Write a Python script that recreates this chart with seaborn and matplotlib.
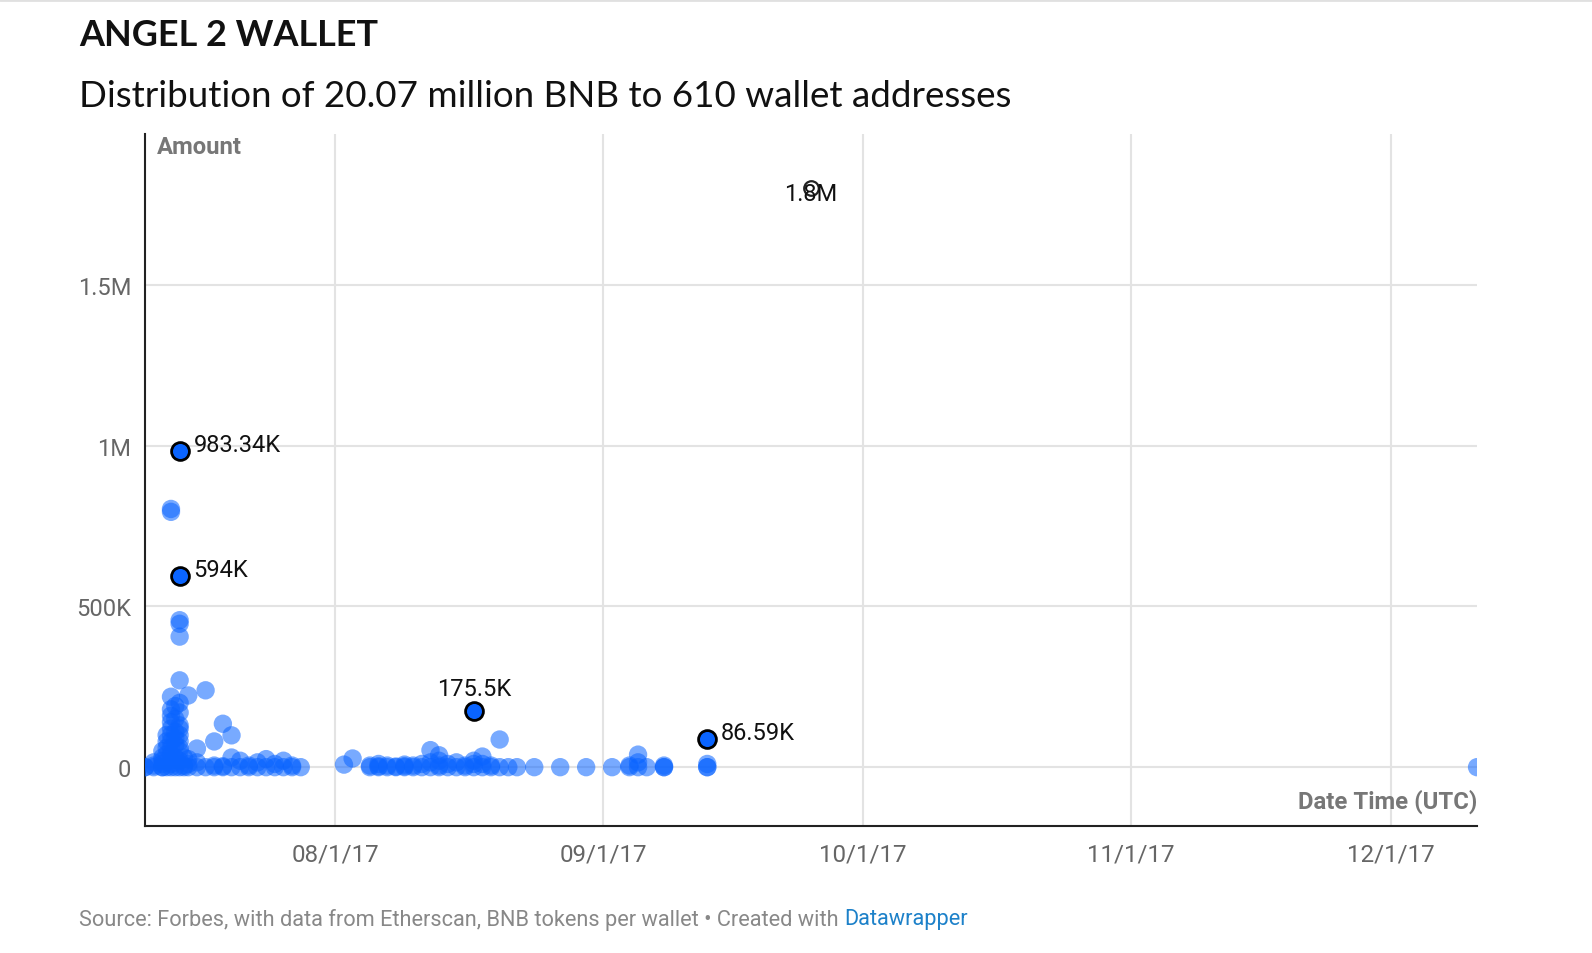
import pandas as pd
import numpy as np
import seaborn as sns
import matplotlib.pyplot as plt
import matplotlib.dates as mdates
from matplotlib.lines import Line2D

# Data: wallet transfers (date, amount in BNB)
dates = (
    ["2017-07-10 00:00"] * 2
    + ["2017-07-11 00:00"] * 3
    + ["2017-07-12 00:00"] * 6
    + ["2017-07-12 12:00"] * 5
    + ["2017-07-13 00:00"] * 14
    + ["2017-07-13 12:00"] * 7
    + ["2017-07-14 00:00"] * 14
    + ["2017-07-14 12:00"] * 3
    + ["2017-07-15 00:00"] * 4
    + ["2017-07-16 00:00"] * 3
    + ["2017-07-17 00:00"] * 2
    + ["2017-07-18 00:00"] * 3
    + ["2017-07-19 00:00"] * 3
    + ["2017-07-20 00:00"] * 3
    + ["2017-07-21 00:00"] * 2
    + ["2017-07-22 00:00"] * 2
    + ["2017-07-23 00:00"] * 2
    + ["2017-07-24 00:00"] * 2
    + ["2017-07-25 00:00"] * 2
    + ["2017-07-26 00:00"] * 2
    + ["2017-07-27 00:00"] * 2
    + ["2017-07-28 00:00"]
    + ["2017-08-02 00:00", "2017-08-03 00:00"]
    + ["2017-08-05 00:00"] * 2
    + ["2017-08-06 00:00"] * 3
    + ["2017-08-07 00:00"] * 2
    + ["2017-08-08 00:00"] * 2
    + ["2017-08-09 00:00"] * 3
    + ["2017-08-10 00:00"] * 2
    + ["2017-08-11 00:00"] * 2
    + ["2017-08-12 00:00"] * 3
    + ["2017-08-13 00:00"] * 4
    + ["2017-08-14 00:00"] * 2
    + ["2017-08-15 00:00"] * 2
    + ["2017-08-16 00:00"] * 2
    + ["2017-08-17 00:00"] * 3
    + ["2017-08-18 00:00"] * 3
    + ["2017-08-19 00:00"] * 2
    + ["2017-08-20 00:00"] * 2
    + ["2017-08-21 00:00", "2017-08-22 00:00", "2017-08-24 00:00",
       "2017-08-27 00:00", "2017-08-30 00:00", "2017-09-02 00:00"]
    + ["2017-09-04 00:00"] * 2
    + ["2017-09-05 00:00"] * 3
    + ["2017-09-06 00:00"]
    + ["2017-09-08 00:00"] * 3
    + ["2017-09-13 00:00"] * 3
    + ["2017-12-11 00:00"]
)
amounts_k = (
    [0, 0]
    + [0, 15, 5]
    + [0, 10, 30, 50, 20, 0]
    + [60, 80, 100, 40, 0]
    + [0, 20, 40, 60, 80, 100, 120, 140, 160, 180, 219, 794, 803, 10]
    + [0, 30, 70, 110, 150, 190, 90]
    + [0, 20, 50, 80, 100, 130, 170, 200, 270, 406, 446, 457, 120, 60]
    + [0, 30, 5]
    + [223, 0, 10, 25]
    + [58, 0, 15]
    + [239, 0]
    + [80, 0, 5]
    + [135, 0, 3]
    + [99, 0, 30]
    + [0, 20]
    + [0, 5]
    + [0, 15]
    + [25, 0]
    + [10, 0]
    + [20, 0]
    + [5, 0]
    + [0]
    + [8, 27]
    + [0, 5]
    + [0, 10, 3]
    + [0, 5]
    + [0, 2]
    + [0, 8, 3]
    + [0, 5]
    + [0, 10]
    + [53, 0, 15]
    + [37, 0, 5, 20]
    + [0, 10]
    + [0, 15]
    + [0, 5]
    + [0, 20, 10]
    + [33, 0, 10]
    + [0, 5]
    + [86, 0]
    + [0, 0, 0, 0, 0, 0]
    + [0, 5]
    + [39, 15, 0]
    + [0]
    + [0, 0, 5]
    + [0, 0, 10]
    + [0]
)

# Highlighted transfers
hl_dates = ["2017-07-14", "2017-07-14", "2017-08-17", "2017-09-13"]
hl_amounts_k = [983.34, 594, 175.5, 86.59]
hl_labels = ["983.34K", "594K", "175.5K", "86.59K"]
big_date = "2017-09-25"
big_amount_k = 1800
big_label = "1.8M"

df = pd.DataFrame({"date": pd.to_datetime(dates, format="%Y-%m-%d %H:%M"),
                   "amount": np.array(amounts_k) * 1000})
hl = pd.DataFrame({"date": pd.to_datetime(hl_dates), "amount": np.array(hl_amounts_k) * 1000})

sns.set_style("white")
plt.rcParams["font.family"] = ["Roboto", "DejaVu Sans"]

fig = plt.figure(figsize=(15.92, 9.54), dpi=100)
ax = fig.add_axes([0.0911, 0.1331, 0.8367, 0.7254])

blue = "#0a64ff"
sns.scatterplot(data=df, x="date", y="amount", ax=ax, color=blue, alpha=0.55,
                s=175, edgecolor="none", zorder=3)
sns.scatterplot(data=hl, x="date", y="amount", ax=ax, color=blue, s=165,
                edgecolor="black", linewidth=2, zorder=4)
ax.scatter(pd.to_datetime([big_date]), [big_amount_k * 1000], s=110,
           facecolor="white", edgecolor="#222222", linewidth=1.6, zorder=4)

# Labels on highlighted points
for d, a, lab in zip(hl["date"], hl["amount"], hl_labels):
    if lab == "175.5K":
        ax.annotate(lab, (d, a), xytext=(0, 8), textcoords="offset points",
                    ha="center", va="bottom", fontsize=17, color="#111111", zorder=5)
    else:
        ax.annotate(lab, (d, a), xytext=(10, 5), textcoords="offset points",
                    ha="left", va="center", fontsize=17, color="#111111", zorder=5)
ax.annotate(big_label, (pd.Timestamp(big_date), big_amount_k * 1000), xytext=(0, -4),
            textcoords="offset points", ha="center", va="center", fontsize=17,
            color="#111111", zorder=5)

# Axes
ax.set_xlim(pd.Timestamp("2017-07-10"), pd.Timestamp("2017-12-11"))
ax.set_ylim(-183000, 1969000)
month_ticks = pd.to_datetime(["2017-08-01", "2017-09-01", "2017-10-01", "2017-11-01", "2017-12-01"])
ax.set_xticks(mdates.date2num(month_ticks))
ax.set_xticklabels(["08/1/17", "09/1/17", "10/1/17", "11/1/17", "12/1/17"])
ax.set_yticks([0, 500000, 1000000, 1500000])
ax.set_yticklabels(["0", "500K", "1M", "1.5M"])
ax.tick_params(axis="both", length=0, labelsize=17.4, labelcolor="#666666")
ax.tick_params(axis="x", pad=12)
ax.tick_params(axis="y", pad=10, labelsize=17)
ax.grid(True, color="#e3e3e3", linewidth=1.5, zorder=0)
ax.set_axisbelow(True)
for side in ["top", "right"]:
    ax.spines[side].set_visible(False)
for side in ["left", "bottom"]:
    ax.spines[side].set_color("#222222")
    ax.spines[side].set_linewidth(1.5)
ax.set_xlabel("")
ax.set_ylabel("")

ax.text(0.009, 0.982, "Amount", transform=ax.transAxes, ha="left", va="center",
        fontsize=17.2, fontweight="bold", color="#777777")
ax.text(1.0, 0.036, "Date Time (UTC)", transform=ax.transAxes, ha="right", va="center",
        fontsize=17.2, fontweight="bold", color="#777777")

# Titles and footer
fig.text(79 / 1592, 1 - 35 / 954, "ANGEL 2 WALLET", ha="left", va="center",
         fontsize=25.9, fontweight="bold", color="#111111", family=["Lato", "DejaVu Sans"])
fig.text(79 / 1592, 1 - 97 / 954, "Distribution of 20.07 million BNB to 610 wallet addresses",
         ha="left", va="center", fontsize=26.5, color="#111111", family=["Lato", "DejaVu Sans"])
src = fig.text(79 / 1592, 1 - 920 / 954,
               "Source: Forbes, with data from Etherscan, BNB tokens per wallet \u2022 Created with ",
               ha="left", va="center", fontsize=15.7, color="#888888")
fig.canvas.draw()
bb = src.get_window_extent()
fig.text(bb.x1 / 1592, 1 - 920 / 954, "Datawrapper", ha="left", va="center",
         fontsize=15.7, color="#1d81c9")

fig.add_artist(Line2D([0, 1], [0.999, 0.999], color="#e0e0e0", linewidth=2,
                      transform=fig.transFigure))

plt.savefig("out.png", dpi=100)
